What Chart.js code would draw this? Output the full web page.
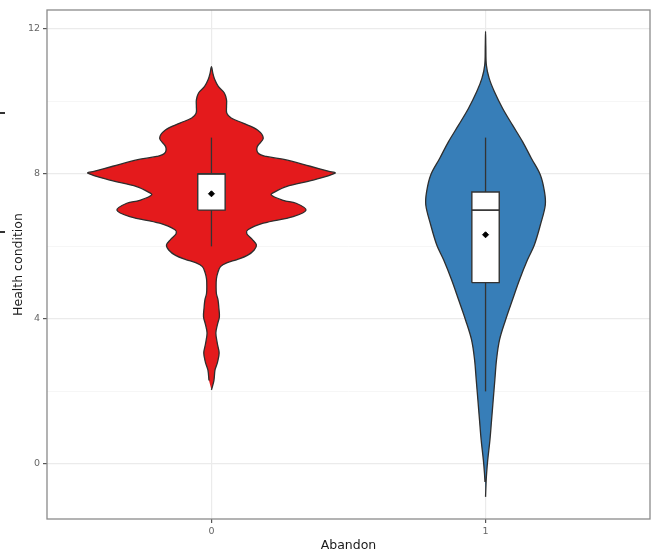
<!DOCTYPE html>
<html>
<head>
<meta charset="utf-8">
<script src="https://cdn.jsdelivr.net/npm/chart.js@4.4.1/dist/chart.umd.min.js"></script>
<style>
  html, body { margin: 0; padding: 0; background: #fff; }
  #wrap { width: 655px; height: 552px; }
</style>
</head>
<body>
<div id="wrap"><canvas id="violin" width="655" height="552"></canvas></div>
<script>
// categories on the x axis
const categories = ['0', '1'];
const yTicks = [0, 2, 4, 6, 8, 10, 12];

// violin outline for Abandon = 0 : health value and half-width (x units)
const redY = [2.04, 2.3, 2.59, 2.8, 3.06, 3.3, 3.61, 3.85, 4.06, 4.3, 4.52, 4.7, 4.89, 5.1, 5.27, 5.44, 5.55, 5.63, 5.75, 5.9,
  6.04, 6.2, 6.35, 6.46, 6.64, 6.82, 7.0, 7.19, 7.27, 7.42, 7.51, 7.65, 7.83, 8.02, 8.07, 8.21, 8.39, 8.48, 8.57, 8.75,
  8.98, 9.21, 9.4, 9.54, 9.67, 9.86, 10.04, 10.23, 10.41, 10.6, 10.78, 10.96];
const redW = [0, 0.009, 0.013, 0.022, 0.028, 0.022, 0.016, 0.022, 0.029, 0.027, 0.024, 0.018, 0.017, 0.018, 0.023, 0.033, 0.058, 0.091, 0.131, 0.156,
  0.164, 0.148, 0.129, 0.133, 0.189, 0.298, 0.345, 0.309, 0.262, 0.218, 0.233, 0.273, 0.371, 0.451, 0.429, 0.36, 0.269, 0.2, 0.171, 0.167,
  0.189, 0.168, 0.115, 0.072, 0.056, 0.055, 0.055, 0.047, 0.025, 0.012, 0.005, 0];

// violin outline for Abandon = 1
const blueY = [-0.91, -0.5, -0.25, 0.11, 0.66, 1.21, 1.77, 2.32, 2.87, 3.42, 3.97, 4.52, 5.08, 5.63, 6.04, 6.59, 7.14, 7.51,
  7.97, 8.43, 8.89, 9.35, 9.81, 10.27, 10.64, 11.0, 11.5, 11.93];
const blueW = [0, 0.002, 0.004, 0.008, 0.016, 0.022, 0.028, 0.034, 0.04, 0.051, 0.073, 0.098, 0.124, 0.153, 0.178, 0.2, 0.218, 0.215,
  0.2, 0.167, 0.135, 0.098, 0.062, 0.032, 0.013, 0.003, 0.001, 0];

// box plot summaries per category
const whiskerLow = [6, 2];
const q1 = [7, 5];
const median = [8, 7];
const q3 = [8, 7.5];
const whiskerHigh = [9, 9];
const means = [7.45, 6.32];

const violinColors = ['#E41A1C', '#377EB8'];
const boxHalf = 0.05;

// build a closed outline: right side going up, left side coming down
function violinPoints(cat, ys, ws) {
    const pts = [];
    for (let i = 0; i < ys.length; i++) pts.push({ x: cat + ws[i], y: ys[i] });
    for (let i = ys.length - 2; i > 0; i--) pts.push({ x: cat - ws[i], y: ys[i] });
    return pts;
}

function boxPoints(cat) {
    return [
        { x: cat - boxHalf, y: q1[cat] },
        { x: cat + boxHalf, y: q1[cat] },
        { x: cat + boxHalf, y: q3[cat] },
        { x: cat - boxHalf, y: q3[cat] },
        { x: cat - boxHalf, y: q1[cat] }
    ];
}

const datasets = [];
[[redY, redW], [blueY, blueW]].forEach(([ys, ws], cat) => {
    datasets.push({
        type: 'line',
        data: violinPoints(cat, ys, ws),
        backgroundColor: violinColors[cat],
        borderColor: '#2e2e2e',
        borderWidth: 1.3,
        fill: 'shape',
        tension: 0.35,
        pointRadius: 0,
        order: 5
    });
    datasets.push({
        type: 'line',
        data: [{ x: cat, y: whiskerLow[cat] }, { x: cat, y: whiskerHigh[cat] }],
        borderColor: '#333333',
        borderWidth: 1.3,
        fill: false,
        pointRadius: 0,
        order: 4
    });
    datasets.push({
        type: 'line',
        data: boxPoints(cat),
        backgroundColor: '#ffffff',
        borderColor: '#333333',
        borderWidth: 1.4,
        fill: 'shape',
        tension: 0,
        pointRadius: 0,
        order: 3
    });
    datasets.push({
        type: 'line',
        data: [{ x: cat - boxHalf, y: median[cat] }, { x: cat + boxHalf, y: median[cat] }],
        borderColor: '#333333',
        borderWidth: 1.7,
        fill: false,
        pointRadius: 0,
        order: 2
    });
    datasets.push({
        type: 'scatter',
        data: [{ x: cat, y: means[cat] }],
        backgroundColor: '#000000',
        borderColor: '#000000',
        pointStyle: 'rectRot',
        pointRadius: 3,
        order: 1
    });
});

// grey panel border like theme_bw, plus the two little dashes at the left edge of the picture
const panelBorder = {
    id: 'panelBorder',
    afterDraw(chart) {
        const { ctx, chartArea: a } = chart;
        ctx.save();
        ctx.strokeStyle = '#8a8a8a';
        ctx.lineWidth = 1.3;
        ctx.strokeRect(a.left, a.top, a.right - a.left, a.bottom - a.top);
        ctx.fillStyle = '#333333';
        ctx.fillRect(0, 112, 5, 2);
        ctx.fillRect(0, 231, 5, 2);
        ctx.restore();
    }
};

const ctx = document.getElementById('violin').getContext('2d');
const violinChart = new Chart(ctx, {
    type: 'scatter',
    data: { datasets: datasets },
    options: {
        responsive: false,
        animation: false,
        devicePixelRatio: 1,
        layout: { padding: { left: 0, top: 10, right: 4, bottom: 0 } },
        plugins: { legend: { display: false }, tooltip: { enabled: false } },
        scales: {
            x: {
                type: 'linear',
                min: -0.6,
                max: 1.6,
                afterBuildTicks: (scale) => { scale.ticks = categories.map((c, i) => ({ value: i })); },
                afterFit: (scale) => { scale.height = 33; },
                ticks: {
                    callback: (v) => categories[v],
                    color: '#666666',
                    font: { family: 'DejaVu Sans', size: 9.5 },
                    padding: 3,
                    maxRotation: 0
                },
                grid: { color: '#ebebeb', lineWidth: 1.2, tickLength: 4, tickColor: '#555555' },
                border: { display: false },
                title: {
                    display: true,
                    text: 'Abandon',
                    color: '#1a1a1a',
                    font: { family: 'DejaVu Sans', size: 12.5 },
                    padding: { top: 0, bottom: -1 }
                }
            },
            y: {
                type: 'linear',
                min: -1.52,
                max: 12.52,
                afterBuildTicks: (scale) => { scale.ticks = yTicks.map(v => ({ value: v })); },
                afterFit: (scale) => { scale.width = 47; },
                ticks: {
                    callback: (v) => (v % 4 === 0 ? String(v) : ''),
                    color: '#666666',
                    font: { family: 'DejaVu Sans', size: 9.5 },
                    padding: 3
                },
                grid: {
                    color: (c) => (c.tick && c.tick.value % 4 === 0 ? '#ebebeb' : '#f4f4f4'),
                    lineWidth: (c) => (c.tick && c.tick.value % 4 === 0 ? 1.2 : 0.8),
                    tickLength: 4,
                    tickColor: (c) => (c.tick && c.tick.value % 4 === 0 ? '#555555' : 'rgba(0,0,0,0)')
                },
                border: { display: false },
                title: {
                    display: true,
                    text: 'Health condition',
                    color: '#1a1a1a',
                    font: { family: 'DejaVu Sans', size: 12.5 },
                    padding: { top: 11, bottom: 0 }
                }
            }
        }
    },
    plugins: [panelBorder]
});
</script>
</body>
</html>
